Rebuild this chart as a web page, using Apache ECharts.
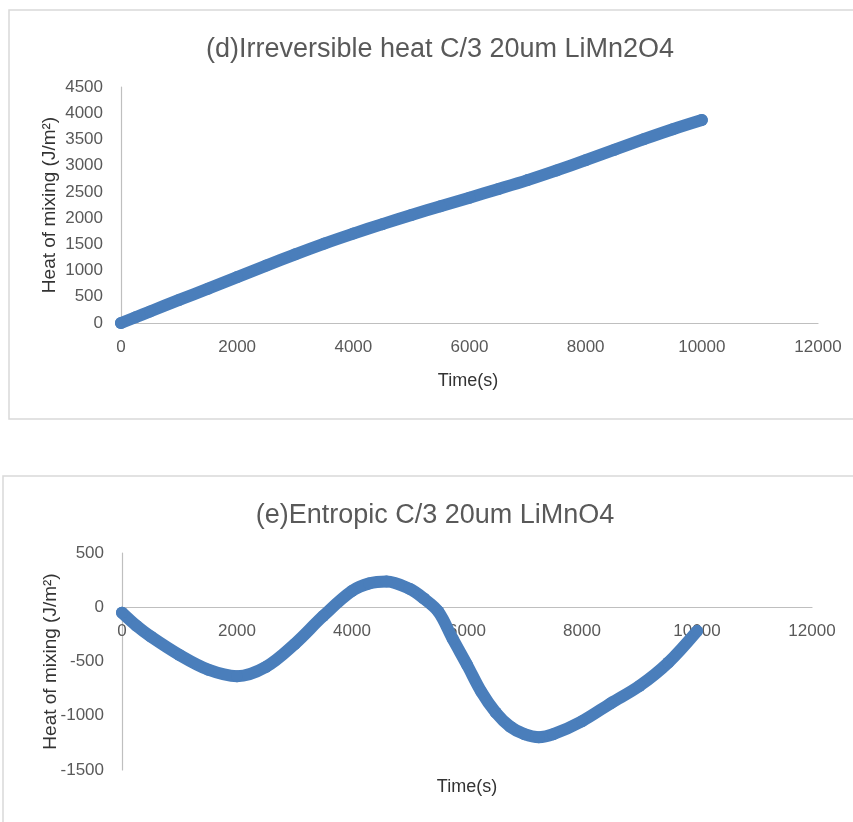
<!DOCTYPE html>
<html>
<head>
<meta charset="utf-8">
<script src="https://cdn.jsdelivr.net/npm/echarts@6/dist/echarts.min.js"></script>
<style>
html,body{margin:0;padding:0;background:#fff;}
#c{width:853px;height:822px;}
</style>
</head>
<body>
<div id="c"></div>
<script>
// ---- data ----
const timeD = [0, 250, 500, 1000, 1500, 2000, 2500, 3000, 3500, 4000, 4500, 5000, 5500, 6000, 6500, 7000, 7500, 8000, 8500, 9000, 9500, 10000];
const heatD = [0, 110, 220, 440, 655, 875, 1095, 1310, 1515, 1705, 1885, 2060, 2225, 2390, 2555, 2725, 2910, 3105, 3305, 3505, 3695, 3870];

const timeE = [0, 250, 500, 1000, 1500, 2000, 2500, 3000, 3500, 4000, 4300, 4600, 5000, 5250, 5500, 5750, 6000, 6250, 6500, 6750, 7000, 7250, 7500, 8000, 8500, 9000, 9500, 10000];
const heatE = [-50, -170, -270, -440, -575, -635, -550, -340, -80, 150, 220, 237, 170, 80, -40, -290, -530, -780, -970, -1100, -1170, -1198, -1170, -1050, -885, -725, -510, -220];

const xTicks = [0, 2000, 4000, 6000, 8000, 10000, 12000];
const yTicksD = [0, 500, 1000, 1500, 2000, 2500, 3000, 3500, 4000, 4500];
const yTicksE = [-1500, -1000, -500, 0, 500];

const titleD = '(d)Irreversible heat C/3 20um LiMn2O4';
const titleE = '(e)Entropic C/3 20um LiMnO4';
const xName = 'Time(s)';
const yName = 'Heat of mixing (J/m\u00B2)';

// ---- styles ----
const sans = '"Liberation Sans", Arial, sans-serif';
const blue = '#4a7ebb';
const gridLine = '#bfbfbf';
const labelColor = '#595959';

function pairs(xs, ys){ return xs.map((x,i)=>[x, ys[i]]); }
function plain(v){ return String(v); }

const chart = echarts.init(document.getElementById('c'), null, {renderer:'canvas'});

const grid1H = 236, grid2H = 217;
// place the x axis of the lower chart where y = 0 (distance from the grid bottom)
const zeroOffset2 = grid2H * (0 - yTicksE[0]) / (yTicksE[yTicksE.length-1] - yTicksE[0]);

function xAxisCfg(gridIndex, offset){
  return {
    type:'value', gridIndex, min:xTicks[0], max:xTicks[xTicks.length-1], interval:2000,
    position:'bottom', offset: offset,
    axisLine:{show:true, onZero:false, lineStyle:{color:gridLine, width:1.2}},
    axisTick:{show:false}, splitLine:{show:false},
    axisLabel:{color:labelColor, fontFamily:sans, fontSize:17, margin:16, formatter:plain}
  };
}
function yAxisCfg(gridIndex, ticks){
  return {
    type:'value', gridIndex, min:ticks[0], max:ticks[ticks.length-1], interval:500,
    axisLine:{show:true, onZero:false, lineStyle:{color:gridLine, width:1.2}},
    axisTick:{show:false}, splitLine:{show:false},
    axisLabel:{color:labelColor, fontFamily:sans, fontSize:17, margin:18, formatter:plain},
    name: yName, nameLocation:'middle', nameGap:62, nameRotate:90, nameMoveOverlap:false,
    nameTextStyle:{color:'#333333', fontFamily:sans, fontSize:19}
  };
}
function seriesCfg(i, xs, ys){
  return {
    type:'line', xAxisIndex:i, yAxisIndex:i, data:pairs(xs, ys),
    smooth:0.35, showSymbol:true, symbol:'circle', symbolSize:12,
    itemStyle:{color:blue}, lineStyle:{color:blue, width:12, cap:'round', join:'round'},
    animation:false, z:3
  };
}

chart.setOption({
  backgroundColor:'#fff',
  animation:false,
  title:[
    {text:titleD, left:435, top:31, textAlign:'center',
     textStyle:{fontFamily:sans, fontSize:27, fontWeight:'normal', color:labelColor}},
    {text:titleE, left:430, top:497, textAlign:'center',
     textStyle:{fontFamily:sans, fontSize:27, fontWeight:'normal', color:labelColor}}
  ],
  graphic:[
    {type:'rect', shape:{x:9, y:10, width:860, height:409}, style:{fill:'none', stroke:'#d9d9d9', lineWidth:1.5}, silent:true, z:-10},
    {type:'rect', shape:{x:3, y:476, width:870, height:360}, style:{fill:'none', stroke:'#d9d9d9', lineWidth:1.5}, silent:true, z:-10},
    {type:'text', style:{text:xName, x:468, y:381, textAlign:'center', textVerticalAlign:'middle', font:'18px "Liberation Sans", Arial, sans-serif', fill:'#333333'}, silent:true},
    {type:'text', style:{text:xName, x:467, y:787, textAlign:'center', textVerticalAlign:'middle', font:'18px "Liberation Sans", Arial, sans-serif', fill:'#333333'}, silent:true}
  ],
  grid:[
    {left:121, top:87, width:697, height:grid1H, containLabel:false},
    {left:122, top:553, width:690, height:grid2H, containLabel:false}
  ],
  xAxis:[xAxisCfg(0, 0), xAxisCfg(1, -zeroOffset2)],
  yAxis:[yAxisCfg(0, yTicksD), yAxisCfg(1, yTicksE)],
  series:[seriesCfg(0, timeD, heatD), seriesCfg(1, timeE, heatE)]
});
</script>
</body>
</html>
